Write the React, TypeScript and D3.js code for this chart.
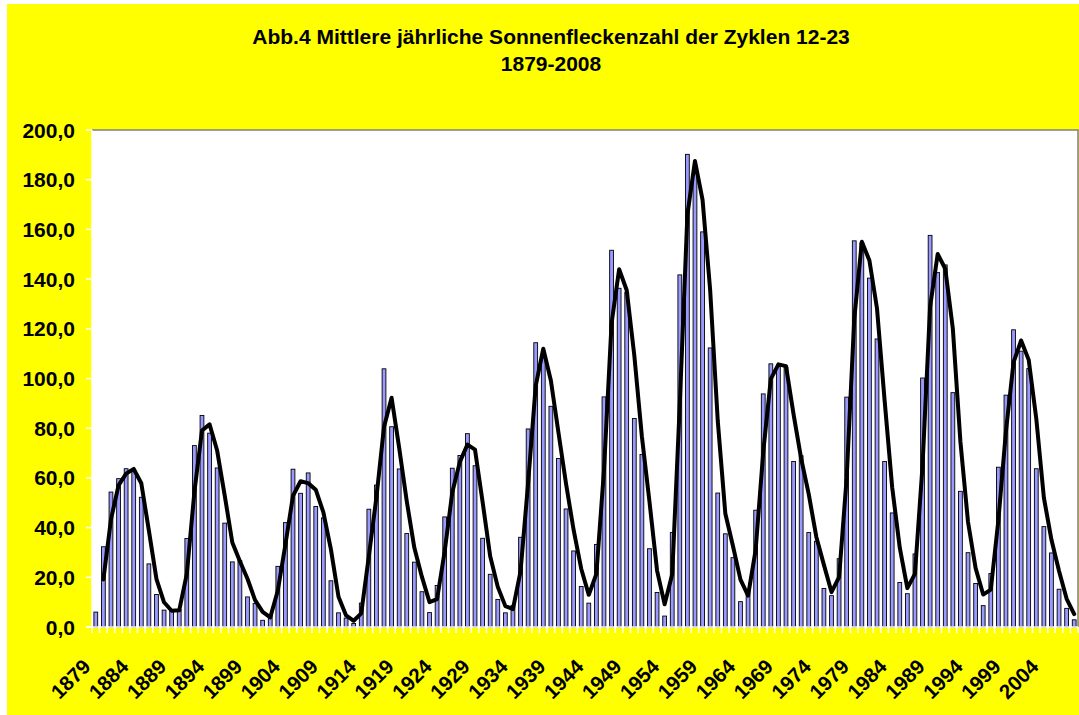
import React from "react";
import * as d3 from "d3";

const years: number[] = d3.range(1879, 2009);

const sunspots: number[] = [
  6.0, 32.3, 54.3, 59.7, 63.7, 63.5, 52.2, 25.4, 13.1, 6.8,
  6.3, 7.1, 35.6, 73.0, 85.1, 78.0, 64.0, 41.8, 26.2, 26.7,
  12.1, 9.5, 2.7, 5.0, 24.4, 42.0, 63.5, 53.8, 62.0, 48.5,
  43.9, 18.6, 5.7, 3.6, 1.4, 9.6, 47.4, 57.1, 103.9, 80.6,
  63.6, 37.6, 26.1, 14.2, 5.8, 16.7, 44.3, 63.9, 69.0, 77.8,
  64.9, 35.7, 21.2, 11.1, 5.7, 8.7, 36.1, 79.7, 114.4, 109.6,
  88.8, 67.8, 47.5, 30.6, 16.3, 9.6, 33.2, 92.6, 151.6, 136.3,
  134.7, 83.9, 69.4, 31.5, 13.9, 4.4, 38.0, 141.7, 190.2, 184.8,
  159.0, 112.3, 53.9, 37.5, 27.9, 10.2, 15.1, 47.0, 93.8, 105.9,
  105.5, 104.5, 66.6, 68.9, 38.0, 34.5, 15.5, 12.6, 27.5, 92.5,
  155.4, 154.6, 140.4, 115.9, 66.6, 45.9, 17.9, 13.4, 29.4, 100.2,
  157.6, 142.6, 145.7, 94.3, 54.6, 29.9, 17.5, 8.6, 21.5, 64.3,
  93.3, 119.6, 111.0, 104.0, 63.7, 40.4, 29.8, 15.2, 7.5, 2.9,
];

const yTicks: number[] = [0, 20, 40, 60, 80, 100, 120, 140, 160, 180, 200];
const xLabelYears: number[] = d3.range(1879, 2009, 5);

const titleLines: string[] = [
  "Abb.4 Mittlere jährliche Sonnenfleckenzahl der Zyklen 12-23",
  "1879-2008",
];

// 2-period moving average trendline (as in the original spreadsheet chart)
const movingAvg: { year: number; value: number }[] = years
  .slice(1)
  .map((y, i) => ({ year: y, value: (sunspots[i] + sunspots[i + 1]) / 2 }));

export default function App() {
  const W = 1079;
  const H = 715;
  const plot = { left: 92, right: 1078, top: 130, bottom: 627 };
  const font = "'Liberation Sans', Arial, sans-serif";

  const x = d3
    .scaleBand<number>()
    .domain(years)
    .range([plot.left, plot.right])
    .paddingInner(0.5)
    .paddingOuter(0.25);
  const band = d3.scaleBand<number>().domain(years).range([plot.left, plot.right]);
  const y = d3.scaleLinear().domain([0, 200]).range([plot.bottom, plot.top]);

  const cx = (yr: number) => (band(yr) as number) + band.bandwidth() / 2;

  const line = d3
    .line<{ year: number; value: number }>()
    .x((d) => cx(d.year))
    .y((d) => y(d.value));

  const fmt = (v: number) => v.toFixed(1).replace(".", ",");

  return (
    <svg
      width={W}
      height={H}
      style={{ position: "absolute", left: 0, top: 0, display: "block" }}
      fontFamily={font}
    >
      <rect x={7} y={4} width={W - 7} height={H - 4} fill="#FFFF00" />
      {titleLines.map((t, i) => (
        <text
          key={i}
          x={551}
          y={44 + i * 27}
          textAnchor="middle"
          fontWeight="bold"
          fontSize={21}
          fill="#000"
        >
          {t}
        </text>
      ))}
      <rect
        x={plot.left}
        y={plot.top}
        width={plot.right - plot.left}
        height={plot.bottom - plot.top}
        fill="#FFFFFF"
      />
      <path
        d={`M${plot.left},${plot.top}H${plot.right}V${plot.bottom}`}
        fill="none"
        stroke="#808080"
        strokeWidth={1.5}
      />
      {years.map((yr, i) => (
        <rect
          key={yr}
          x={(x(yr) as number)}
          y={y(sunspots[i])}
          width={x.bandwidth()}
          height={plot.bottom - y(sunspots[i])}
          fill="#9999FF"
          stroke="#000"
          strokeWidth={0.9}
        />
      ))}
      <path
        d={line(movingAvg) || ""}
        fill="none"
        stroke="#000"
        strokeWidth={4}
        strokeLinejoin="round"
        strokeLinecap="round"
      />
      {/* y axis */}
      <line x1={plot.left} x2={plot.left} y1={plot.top} y2={plot.bottom} stroke="#FFF" strokeWidth={1.5} />
      {yTicks.map((t) => (
        <g key={t}>
          <line x1={plot.left - 6} x2={plot.left} y1={y(t)} y2={y(t)} stroke="#FFF" strokeWidth={1.5} />
          <text
            x={75}
            y={y(t)}
            dy="0.36em"
            textAnchor="end"
            fontWeight="bold"
            fontSize={21}
            fill="#000"
          >
            {fmt(t)}
          </text>
        </g>
      ))}
      {/* x axis */}
      <line x1={plot.left - 6} x2={plot.right} y1={plot.bottom} y2={plot.bottom} stroke="#FFF" strokeWidth={1.5} />
      {years.concat([2009]).map((yr, i) => {
        const xx = plot.left + i * band.step();
        return <line key={yr} x1={xx} x2={xx} y1={plot.bottom} y2={plot.bottom + 6} stroke="#FFF" strokeWidth={1.5} />;
      })}
      {xLabelYears.map((yr) => (
        <text
          key={yr}
          transform={`translate(${cx(yr) - 4},${668}) rotate(-45)`}
          textAnchor="end"
          fontWeight="bold"
          fontSize={20.5}
          fill="#000"
        >
          {yr}
        </text>
      ))}
    </svg>
  );
}
